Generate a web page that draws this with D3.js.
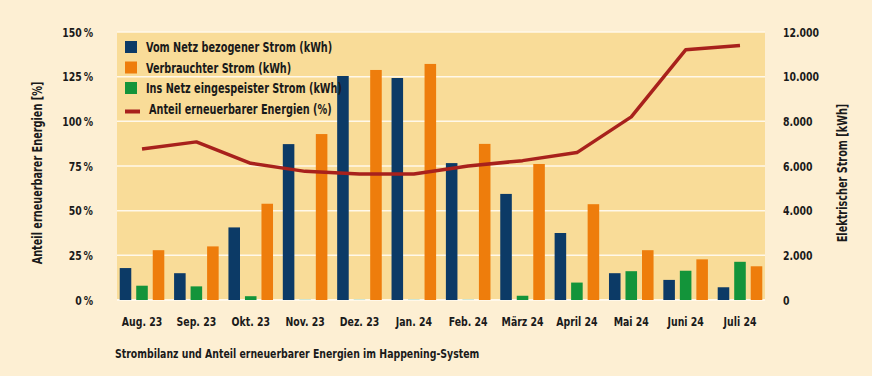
<html>
  <head>
  <meta charset="utf-8">
  <script src="https://cdnjs.cloudflare.com/ajax/libs/d3/7.8.5/d3.min.js"></script>
  <style>
    html, body {
      margin: 0px;
      padding: 0px;
      background: #fdefd3;
    }
    svg text {
      font-family: "DejaVu Sans Condensed", "DejaVu Sans", sans-serif;
      font-stretch: condensed;
      font-weight: bold;
      fill: #1a1a1a;
    }
  </style>
  </head>
  <body>
    <div id="chart"></div>
    <script>
      // monthly values
      var months = ["Aug. 23", "Sep. 23", "Okt. 23", "Nov. 23", "Dez. 23", "Jan. 24",
                    "Feb. 24", "März 24", "April 24", "Mai 24", "Juni 24", "Juli 24"];
      var bezogen = [1430, 1200, 3250, 6980, 10030, 9940, 6130, 4750, 3000, 1200, 900, 570];
      var eingespeist = [640, 610, 170, 25, 25, 25, 25, 190, 780, 1290, 1310, 1710];
      var verbraucht = [2230, 2400, 4310, 7430, 10300, 10570, 6990, 6090, 4290, 2230, 1820, 1510];
      var anteil = [84.5, 88.5, 76.5, 72, 70.5, 70.5, 75, 78, 82.5, 102.5, 140, 142.5];

      var pctTicks = [0, 25, 50, 75, 100, 125, 150];
      var kwhTicks = [0, 2000, 4000, 6000, 8000, 10000, 12000];

      var legendItems = [
        { label: "Vom Netz bezogener Strom (kWh)", color: "#0c3a66", type: "box" },
        { label: "Verbrauchter Strom (kWh)", color: "#ee7d0c", type: "box" },
        { label: "Ins Netz eingespeister Strom (kWh)", color: "#13943a", type: "box" },
        { label: "Anteil erneuerbarer Energien (%)", color: "#a8211c", type: "line" }
      ];

      var width = 872, height = 376;
      var margin = { top: 32, right: 107, bottom: 76, left: 117 };
      var fontSize = 13;
      var squeeze = 0.8;  // the original uses a condensed face

      var svg = d3.select("#chart").append("svg")
        .attr("width", width)
        .attr("height", height);

      var x = d3.scaleBand()
        .domain(months)
        .range([margin.left, width - margin.right])
        .paddingInner(0.18)
        .paddingOuter(0.05);

      var x1 = d3.scaleBand()
        .domain(["bezogen", "eingespeist", "verbraucht"])
        .range([0, x.bandwidth()])
        .paddingInner(0.3);

      var yPct = d3.scaleLinear().domain([0, 150]).range([height - margin.bottom, margin.top]);
      var yKwh = d3.scaleLinear().domain([0, 12000]).range([height - margin.bottom, margin.top]);

      // plot area
      svg.append("rect")
        .attr("x", margin.left)
        .attr("y", margin.top)
        .attr("width", width - margin.left - margin.right)
        .attr("height", height - margin.top - margin.bottom)
        .attr("fill", "#f9dc98");

      svg.append("g").selectAll("line")
        .data(pctTicks)
        .join("line")
          .attr("x1", margin.left)
          .attr("x2", width - margin.right)
          .attr("y1", d => yPct(d))
          .attr("y2", d => yPct(d))
          .attr("stroke", "#fff8ea")
          .attr("stroke-width", d => d == 0 ? 2 : 1.5);

      // bars
      var series = [
        { key: "bezogen", values: bezogen, color: "#0c3a66" },
        { key: "eingespeist", values: eingespeist, color: "#13943a" },
        { key: "verbraucht", values: verbraucht, color: "#ee7d0c" }
      ];

      series.forEach(function(s) {
        svg.append("g").selectAll("rect")
          .data(s.values)
          .join("rect")
            .attr("x", (d, i) => x(months[i]) + x1(s.key))
            .attr("y", d => yKwh(d))
            .attr("width", x1.bandwidth())
            .attr("height", d => yKwh(0) - yKwh(d))
            .attr("fill", d => d < 100 ? "#a8d8c4" : s.color);
      });

      // line
      var line = d3.line()
        .x((d, i) => x(months[i]) + x.bandwidth() / 2)
        .y(d => yPct(d));

      svg.append("path")
        .datum(anteil)
        .attr("d", line)
        .attr("fill", "none")
        .attr("stroke", "#a8211c")
        .attr("stroke-width", 3.5)
        .attr("stroke-linejoin", "round");

      // axes
      var leftAxis = svg.append("g")
        .attr("transform", "translate(" + margin.left + ",0)")
        .call(d3.axisLeft(yPct).tickValues(pctTicks).tickSize(0).tickPadding(24)
          .tickFormat(d => d + "\u2009%"));

      var rightAxis = svg.append("g")
        .attr("transform", "translate(" + (width - margin.right) + ",0)")
        .call(d3.axisRight(yKwh).tickValues(kwhTicks).tickSize(0).tickPadding(18)
          .tickFormat(d => d3.format(",")(d).replace(/,/g, ".")));

      var bottomAxis = svg.append("g")
        .attr("transform", "translate(0," + (height - margin.bottom) + ")")
        .call(d3.axisBottom(x).tickSize(0).tickPadding(17));

      [leftAxis, rightAxis, bottomAxis].forEach(function(a) {
        a.select(".domain").remove();
        a.selectAll("text").attr("font-size", fontSize);
      });

      // axis titles
      svg.append("text")
        .attr("transform", "translate(42,173) rotate(-90)")
        .attr("text-anchor", "middle")
        .attr("font-size", 13.5)
        .text("Anteil erneuerbarer Energien [%]");

      svg.append("text")
        .attr("transform", "translate(847,173) rotate(-90)")
        .attr("text-anchor", "middle")
        .attr("font-size", 13.5)
        .text("Elektrischer Strom [kWh]");

      svg.append("text")
        .attr("x", 115)
        .attr("y", 358)
        .attr("font-size", fontSize)
        .text("Strombilanz und Anteil erneuerbarer Energien im Happening-System");

      // legend
      var legend = svg.append("g").selectAll("g")
        .data(legendItems)
        .join("g")
          .attr("transform", (d, i) => "translate(125," + (41 + i * 20.5) + ")");

      legend.filter(d => d.type == "box").append("rect")
        .attr("width", 12)
        .attr("height", 12)
        .attr("fill", d => d.color);

      legend.filter(d => d.type == "line").append("rect")
        .attr("y", 7)
        .attr("width", 15)
        .attr("height", 4)
        .attr("fill", d => d.color);

      legend.append("text")
        .attr("x", d => d.type == "line" ? 24 : 21)
        .attr("y", 11)
        .attr("font-size", 13.5)
        .text(d => d.label);

      // narrow every label to look like a condensed face
      svg.selectAll("text").each(function() {
        var w = this.getComputedTextLength();
        this.setAttribute("textLength", w * squeeze);
        this.setAttribute("lengthAdjust", "spacingAndGlyphs");
      });
    </script>
  </body>
</html>
